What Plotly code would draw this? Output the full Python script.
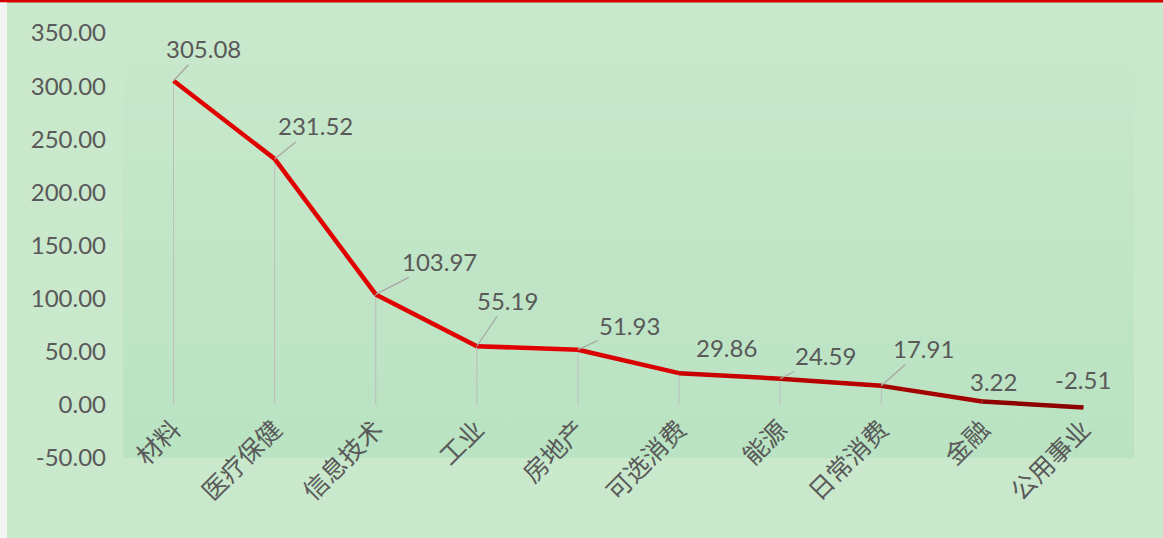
import plotly.graph_objects as go

categories = ["材料", "医疗保健", "信息技术", "工业", "房地产", "可选消费", "能源", "日常消费", "金融", "公用事业"]
values = [305.08, 231.52, 103.97, 55.19, 51.93, 29.86, 24.59, 17.91, 3.22, -2.51]
y_ticks = [-50, 0, 50, 100, 150, 200, 250, 300, 350]
y_tick_labels = ["-50.00", "0.00", "50.00", "100.00", "150.00", "200.00", "250.00", "300.00", "350.00"]

# label offsets (pixels) and whether a leader line is drawn
label_dx = [30, 41, 64, 31, 52, 47, 45, 42, 11, 0]
label_dy = [-32, -33, -33, -46, -24, -26, -23, -37, -20, -28]
leader = [True, True, True, True, True, False, True, True, False, False]
seg_colors = ["#e00000", "#e00000", "#e00000", "#e00000", "#d80000",
              "#c80000", "#b80000", "#a40000", "#8c0000"]

W, H = 1163, 538
ML, MR, MT, MB = 123, 29, 33, 80
PW, PH = W - ML - MR, H - MT - MB
ymin, ymax = -50, 350
xs = list(range(len(categories)))
xmin, xmax = -0.5, len(categories) - 0.5

BG = "#c9e8cc"
TXT = "#595959"
NUM_FONT = "Lato, Open Sans, sans-serif"

fig = go.Figure()

# plot-area gradient background
fig.add_trace(go.Scatter(
    x=[xmin, xmax, xmax, xmin, xmin], y=[ymin, ymin, ymax, ymax, ymin],
    fill="toself", mode="none",
    fillgradient=dict(type="vertical", colorscale=[[0, "#b9e3c2"], [1, BG]]),
    hoverinfo="skip", showlegend=False))

# drop lines
dx, dy = [], []
for x, v in zip(xs, values):
    dx += [x, x, None]
    dy += [0, v, None]
fig.add_trace(go.Scatter(x=dx, y=dy, mode="lines",
                         line=dict(color="#bdbdbd", width=1),
                         hoverinfo="skip", showlegend=False))

# line segments with darkening colour
for i in range(len(values) - 1):
    fig.add_trace(go.Scatter(
        x=[xs[i], xs[i + 1]], y=[values[i], values[i + 1]],
        mode="lines", line=dict(color=seg_colors[i], width=4.5),
        showlegend=False))

# data labels
for x, v, ddx, ddy, ld in zip(xs, values, label_dx, label_dy, leader):
    fig.add_annotation(
        x=x, y=v, text=f"{v:.2f}", showarrow=True,
        ax=ddx, ay=ddy, arrowhead=0, arrowwidth=1.3, standoff=0,
        arrowcolor="#a6a6a6" if ld else "rgba(0,0,0,0)",
        font=dict(family=NUM_FONT, size=24, color=TXT))

# top red border and left white strip
fig.add_shape(type="rect", xref="paper", yref="paper",
              x0=-ML / PW, x1=1 + MR / PW,
              y0=1 + (MT - 2.5) / PH, y1=1 + MT / PH,
              fillcolor="#d40000", line=dict(width=0), layer="above")
fig.add_shape(type="rect", xref="paper", yref="paper",
              x0=-ML / PW, x1=-(ML - 7) / PW,
              y0=-MB / PH, y1=1 + (MT - 2.5) / PH,
              fillcolor="#f4f4f4", line=dict(width=0), layer="above")

fig.update_layout(
    width=W, height=H,
    margin=dict(l=ML, r=MR, t=MT, b=MB, pad=0),
    paper_bgcolor=BG, plot_bgcolor=BG,
    showlegend=False,
    xaxis=dict(
        range=[xmin, xmax], tickmode="array", tickvals=xs, ticktext=categories,
        tickangle=-45, showgrid=False, zeroline=False, showline=False,
        anchor="free", position=(0 - ymin) / (ymax - ymin),
        ticks="", ticklabelstandoff=4,
        tickfont=dict(family="Noto Sans CJK SC", size=25, color=TXT)),
    yaxis=dict(
        range=[ymin, ymax], tickmode="array", tickvals=y_ticks, ticktext=y_tick_labels,
        showgrid=False, zeroline=True, zerolinecolor="#d4d4d4", zerolinewidth=2,
        showline=False, ticks="", ticklabelstandoff=16, domain=[0, 1],
        tickfont=dict(family=NUM_FONT, size=24, color=TXT)),
)

fig.write_html("out.html",
               config={"displayModeBar": False},
               post_script="document.body.style.margin='0';document.body.style.overflow='hidden';")
